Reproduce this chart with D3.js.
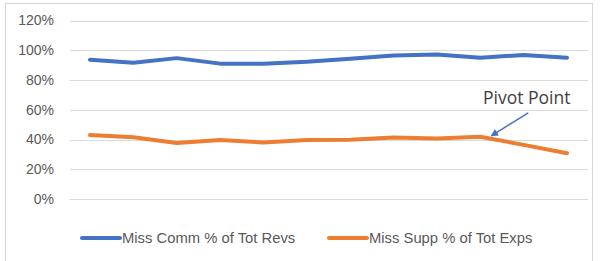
<!DOCTYPE html>
<html>
<head>
<meta charset="utf-8">
<script src="https://cdn.jsdelivr.net/npm/d3@7"></script>
<style>
  body { margin: 0; background: #fff; }
  svg { display: block; }
</style>
</head>
<body>
<div id="chart"></div>
<script>
// data (12 periods, no x labels shown)
var periods = [1, 2, 3, 4, 5, 6, 7, 8, 9, 10, 11, 12];
var missComm = [93.6, 91.6, 94.7, 91.0, 91.0, 92.3, 94.3, 96.4, 97.2, 95.0, 96.8, 95.0];
var missSupp = [43.1, 41.5, 37.6, 39.6, 38.0, 39.6, 39.8, 41.3, 40.6, 41.8, 36.4, 30.8];
var yTicks = [0, 20, 40, 60, 80, 100, 120];
var seriesNames = ["Miss Comm % of Tot Revs", "Miss Supp % of Tot Exps"];
var colors = ["#4472C4", "#ED7D31"];
var pivotIndex = 9;

var W = 601, H = 261;
var svg = d3.select("#chart").append("svg")
    .attr("width", W)
    .attr("height", H);

// faint frame of the screenshot
svg.append("rect")
  .attr("x", 5.5).attr("y", 3.5)
  .attr("width", 587).attr("height", 262)
  .attr("fill", "none")
  .attr("stroke", "#d6d6d6");

var x = d3.scalePoint().domain(periods).range([90, 567]);
var y = d3.scaleLinear().domain([0, 120]).range([199, 20.5]);

// gridlines
svg.append("g")
  .selectAll("line")
  .data(yTicks)
  .join("line")
    .attr("x1", 70).attr("x2", 588)
    .attr("y1", d => Math.round(y(d)) + 0.5)
    .attr("y2", d => Math.round(y(d)) + 0.5)
    .attr("stroke", "#d9d9d9")
    .attr("stroke-width", 1);

var yAxis = d3.axisLeft(y).tickValues(yTicks).tickSize(0).tickPadding(0)
  .tickFormat(d => d + "%");
var gy = svg.append("g").attr("transform", "translate(54,0)").call(yAxis);
gy.select(".domain").remove();
gy.selectAll("text")
  .attr("fill", "#595959")
  .style("font-family", "'Liberation Sans', Arial, sans-serif")
  .style("font-size", "14px");

var line = d3.line()
  .x((d, i) => x(periods[i]))
  .y(d => y(d));

[missComm, missSupp].forEach(function(s, k) {
  svg.append("path")
    .datum(s)
    .attr("d", line)
    .attr("fill", "none")
    .attr("stroke", colors[k])
    .attr("stroke-width", 4)
    .attr("stroke-linecap", "round")
    .attr("stroke-linejoin", "round");
});

// pivot annotation
var px = x(periods[pivotIndex]), py = y(missSupp[pivotIndex]);
svg.append("defs").append("marker")
  .attr("id", "arr")
  .attr("viewBox", "0 0 10 10")
  .attr("refX", 9).attr("refY", 5)
  .attr("markerWidth", 5).attr("markerHeight", 5)
  .attr("orient", "auto")
  .append("path")
    .attr("d", "M0,0L10,5L0,10z")
    .attr("fill", "#4472C4");

svg.append("line")
  .attr("x1", px + 48).attr("y1", py - 24)
  .attr("x2", px + 11).attr("y2", py - 1)
  .attr("stroke", "#4472C4")
  .attr("stroke-width", 1.5)
  .attr("marker-end", "url(#arr)");

svg.append("text")
  .attr("x", 483).attr("y", 104)
  .attr("fill", "#404040")
  .style("font-family", "'Open Sans', sans-serif")
  .style("font-size", "17.5px")
  .text("Pivot Point");

// legend
var legendX = [82, 329];
var lg = svg.append("g");
seriesNames.forEach(function(name, k) {
  lg.append("line")
    .attr("x1", legendX[k]).attr("x2", legendX[k] + 38)
    .attr("y1", 238).attr("y2", 238)
    .attr("stroke", colors[k])
    .attr("stroke-width", 4)
    .attr("stroke-linecap", "round");
  lg.append("text")
    .attr("x", legendX[k] + 40).attr("y", 243)
    .attr("fill", "#595959")
    .style("font-family", "'Liberation Sans', Arial, sans-serif")
    .style("font-size", "14.8px")
    .text(name);
});
</script>
</body>
</html>
